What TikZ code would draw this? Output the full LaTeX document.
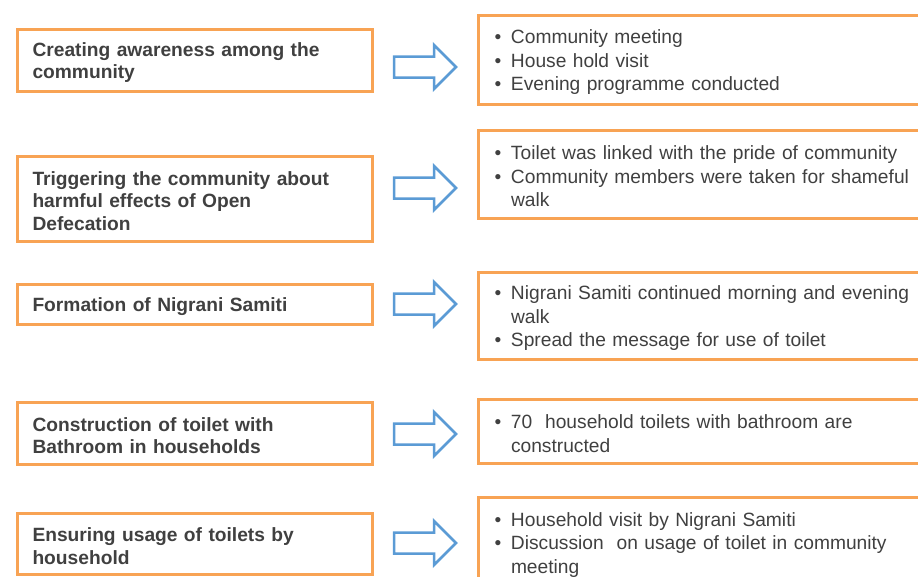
\documentclass[tikz,border=0pt]{standalone}
\usepackage{fontspec}
\setmainfont{Liberation Sans}
\usepackage{tikz}
\usetikzlibrary{positioning}

\definecolor{boxorange}{RGB}{248,163,84}
\definecolor{arrowblue}{RGB}{91,155,213}
\definecolor{txtgray}{RGB}{64,64,64}

\newcommand{\bitem}{\makebox[16.5pt][l]{\textbullet}}
\newcommand{\bcont}{\hspace*{16.5pt}}
\newcommand{\topstrut}{\rule{0pt}{19pt}}

\tikzset{
  stepbox/.style={draw=boxorange, line width=3pt, anchor=west, inner xsep=15pt, inner ysep=0pt,
    text width=325pt, align=left, text=txtgray, font=\fontsize{19.2}{22.5}\selectfont\bfseries,
    execute at begin node=\topstrut},
  actbox/.style={draw=boxorange, line width=3pt, anchor=west, inner xsep=16pt, inner ysep=0pt,
    text width=444pt, align=left, text=txtgray, font=\fontsize{19.2}{23.5}\selectfont,
    execute at begin node=\topstrut},
  fatarrow/.style={draw=arrowblue, line width=2.5pt, line join=miter, fill=white}
}

\begin{document}
\begin{tikzpicture}[x=1pt,y=-1pt]
  \useasboundingbox (0,0) rectangle (918,576);
  \clip (0,0) rectangle (918,576);

  % left column: steps
  \node [stepbox, minimum height=62pt] (s1) at (16,60) {Creating awareness among the\\community};
  \node [stepbox, minimum height=85pt] (s2) at (16,198.5) {Triggering the community about\\harmful effects of Open\\Defecation};
  \node [stepbox, minimum height=40pt] (s3) at (16,304) {Formation of Nigrani Samiti};
  \node [stepbox, minimum height=62pt] (s4) at (16,433) {Construction of toilet with\\Bathroom in households};
  \node [stepbox, minimum height=61pt] (s5) at (16,543.5) {Ensuring usage of toilets by\\household};

  % right column: activities
  \node [actbox, minimum height=89pt] (r1) at (477,59.5) {\bitem Community meeting\\\bitem House hold visit\\\bitem Evening programme conducted};
  \node [actbox, minimum height=88pt] (r2) at (477,174) {\bitem Toilet was linked with the pride of community\\\bitem Community members were taken for shameful\\\bcont walk};
  \node [actbox, minimum height=87pt] (r3) at (477,315.5) {\bitem Nigrani Samiti continued morning and evening\\\bcont walk\\\bitem Spread the message for use of toilet};
  \node [actbox, minimum height=64pt] (r4) at (477,431) {\bitem 70\ \ household toilets with bathroom are\\\bcont constructed};
  \node [actbox, minimum height=90pt] (r5) at (477,542) {\bitem Household visit by Nigrani Samiti\\\bitem Discussion\ \ on usage of toilet in community\\\bcont meeting};

  % block arrows
  \foreach \y in {67,188,304,434,543}
    \draw [fatarrow] (394,{\y-10.5}) -- (434,{\y-10.5}) -- (434,{\y-22}) -- (456,\y)
      -- (434,{\y+22}) -- (434,{\y+10.5}) -- (394,{\y+10.5}) -- cycle;
\end{tikzpicture}
\end{document}
